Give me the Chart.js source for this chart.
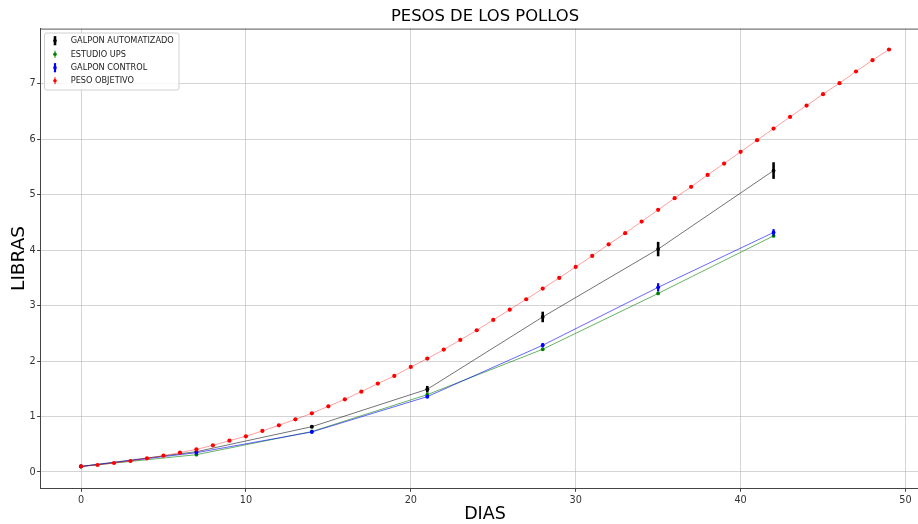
<!DOCTYPE html>
<html>
<head>
<meta charset="utf-8">
<script src="https://cdn.jsdelivr.net/npm/chart.js@4.4.1/dist/chart.umd.min.js"></script>
<style>
  html, body { margin: 0; padding: 0; background: #fff; overflow: hidden; width: 918px; height: 524px; }
  #wrap { position: relative; width: 940px; height: 524px; }
</style>
</head>
<body>
<div id="wrap"><canvas id="c" width="940" height="524"></canvas></div>
<script>
// Días de crianza (curva objetivo diaria)
const dias = [0, 1, 2, 3, 4, 5, 6, 7, 8, 9, 10, 11, 12, 13, 14, 15, 16, 17, 18, 19,
              20, 21, 22, 23, 24, 25, 26, 27, 28, 29, 30, 31, 32, 33, 34, 35, 36, 37, 38, 39,
              40, 41, 42, 43, 44, 45, 46, 47, 48, 49];
// Peso objetivo (libras)
const pesoObjetivo = [0.10, 0.126, 0.162, 0.198, 0.247, 0.295, 0.349, 0.409, 0.481, 0.565,
                      0.644, 0.740, 0.842, 0.950, 1.058, 1.185, 1.311, 1.449, 1.594, 1.732,
                      1.894, 2.045, 2.207, 2.381, 2.556, 2.742, 2.928, 3.115, 3.307, 3.500,
                      3.698, 3.897, 4.105, 4.306, 4.516, 4.727, 4.938, 5.142, 5.358, 5.562,
                      5.773, 5.984, 6.193, 6.404, 6.608, 6.814, 7.012, 7.222, 7.427, 7.619];

// Pesajes semanales
const diasPesaje = [0, 7, 14, 21, 28, 35, 42];
const galponAutomatizado = [0.10, 0.366, 0.817, 1.492, 2.796, 4.02, 5.436];
const errAutomatizado    = [0.01, 0.02, 0.03, 0.06, 0.095, 0.13, 0.15];
const estudioUps         = [0.10, 0.312, 0.73, 1.395, 2.213, 3.22, 4.258];
const errUps             = [0.005, 0.01, 0.01, 0.015, 0.02, 0.02, 0.02];
const galponControl      = [0.10, 0.348, 0.722, 1.359, 2.286, 3.33, 4.32];
const errControl         = [0.005, 0.02, 0.025, 0.03, 0.04, 0.075, 0.06];

// Marcas de los ejes
const ticksX = [0, 10, 20, 30, 40, 50];
const ticksY = [0, 1, 2, 3, 4, 5, 6, 7];

const FONT = '"DejaVu Sans", Verdana, sans-serif';

const pts = (xs, ys) => xs.map((x, i) => ({ x: x, y: ys[i] }));

// Barras de error verticales, dibujadas con cada serie
const errorBars = {
  id: 'errorBars',
  afterDatasetDraw(chart, args) {
    const ds = chart.data.datasets[args.index];
    if (!ds.errors) return;
    const { ctx, scales: { x, y } } = chart;
    ctx.save();
    ctx.strokeStyle = ds.errColor;
    ctx.lineWidth = ds.errWidth;
    ds.data.forEach((p, j) => {
      const e = ds.errors[j];
      if (!e) return;
      const px = x.getPixelForValue(p.x);
      ctx.beginPath();
      ctx.moveTo(px, y.getPixelForValue(p.y - e));
      ctx.lineTo(px, y.getPixelForValue(p.y + e));
      ctx.stroke();
    });
    ctx.restore();
  }
};

// Título, rótulos de ejes, marco superior y leyenda
const decor = {
  id: 'decor',
  afterDraw(chart) {
    const { ctx, chartArea: a } = chart;
    ctx.save();
    // marco superior
    ctx.strokeStyle = '#555';
    ctx.lineWidth = 1;
    ctx.beginPath();
    ctx.moveTo(a.left, a.top + 0.5);
    ctx.lineTo(a.right, a.top + 0.5);
    ctx.stroke();

    const cx = (a.left + a.right) / 2;
    ctx.fillStyle = '#000';
    ctx.textAlign = 'center';
    ctx.textBaseline = 'middle';
    ctx.font = '16.4px ' + FONT;
    ctx.fillText('PESOS DE LOS POLLOS', cx, 17);
    ctx.font = '17.5px ' + FONT;
    ctx.fillText('DIAS', cx, 514);
    ctx.save();
    ctx.font = '18.5px ' + FONT;
    ctx.translate(19, (a.top + a.bottom) / 2);
    ctx.rotate(-Math.PI / 2);
    ctx.fillText('LIBRAS', 0, 0);
    ctx.restore();

    // leyenda
    const bx = 44.5, by = 33, bw = 134.5, bh = 57;
    ctx.fillStyle = 'rgba(255,255,255,0.85)';
    ctx.strokeStyle = '#d0d0d0';
    ctx.lineWidth = 1;
    ctx.beginPath();
    ctx.roundRect(bx, by, bw, bh, 2);
    ctx.fill();
    ctx.stroke();

    const items = [
      { label: 'GALPON AUTOMATIZADO', color: '#000', bar: 2.6, h: 4.6 },
      { label: 'ESTUDIO UPS', color: '#008000', bar: 1, h: 3.5 },
      { label: 'GALPON CONTROL', color: '#0000ff', bar: 2.2, h: 4.6 },
      { label: 'PESO OBJETIVO', color: '#ff0000', bar: 1, h: 3.5 }
    ];
    const rows = [40.7, 54.3, 67.7, 80.7];
    ctx.font = '8.2px ' + FONT;
    ctx.textAlign = 'left';
    items.forEach((it, i) => {
      const yy = rows[i], sx = 55;
      ctx.strokeStyle = it.color;
      ctx.lineWidth = it.bar;
      ctx.beginPath();
      ctx.moveTo(sx, yy - it.h);
      ctx.lineTo(sx, yy + it.h);
      ctx.stroke();
      ctx.fillStyle = it.color;
      ctx.beginPath();
      ctx.arc(sx, yy, 1.8, 0, Math.PI * 2);
      ctx.fill();
      ctx.fillStyle = '#222';
      ctx.fillText(it.label, 70.7, yy + 0.5);
    });
    ctx.restore();
  }
};

new Chart(document.getElementById('c'), {
  type: 'line',
  data: {
    datasets: [
      {
        label: 'PESO OBJETIVO',
        data: pts(dias, pesoObjetivo),
        borderColor: 'rgba(255,0,0,0.38)',
        borderWidth: 1,
        pointBackgroundColor: '#ff0000',
        pointBorderColor: '#ff0000',
        pointRadius: 2.1,
        pointBorderWidth: 0,
        order: 0
      },
      {
        label: 'GALPON CONTROL',
        data: pts(diasPesaje, galponControl),
        errors: errControl, errColor: '#0000ff', errWidth: 2.2,
        borderColor: 'rgba(0,0,255,0.6)',
        borderWidth: 1,
        pointBackgroundColor: '#0000ff',
        pointBorderColor: '#0000ff',
        pointRadius: 1.9,
        pointBorderWidth: 0,
        order: 1
      },
      {
        label: 'ESTUDIO UPS',
        data: pts(diasPesaje, estudioUps),
        errors: errUps, errColor: '#008000', errWidth: 1,
        borderColor: 'rgba(0,128,0,0.6)',
        borderWidth: 1,
        pointBackgroundColor: '#008000',
        pointBorderColor: '#008000',
        pointRadius: 1.9,
        pointBorderWidth: 0,
        order: 2
      },
      {
        label: 'GALPON AUTOMATIZADO',
        data: pts(diasPesaje, galponAutomatizado),
        errors: errAutomatizado, errColor: '#000', errWidth: 2.6,
        borderColor: 'rgba(0,0,0,0.55)',
        borderWidth: 1,
        pointBackgroundColor: '#000',
        pointBorderColor: '#000',
        pointRadius: 1.9,
        pointBorderWidth: 0,
        order: 3
      }
    ]
  },
  options: {
    responsive: false,
    animation: false,
    events: [],
    layout: { padding: { top: 28.6, right: 10.6, left: 0, bottom: 0 } },
    plugins: { legend: { display: false }, title: { display: false }, tooltip: { enabled: false } },
    scales: {
      x: {
        type: 'linear',
        min: -2.45,
        max: 51.45,
        afterBuildTicks: s => { s.ticks = ticksX.map(v => ({ value: v })); },
        afterFit: s => { s.height = 35.7; },
        grid: { color: 'rgba(176,176,176,0.55)', lineWidth: 1, tickLength: 3.5, tickColor: '#444' },
        border: { color: '#444', width: 1 },
        ticks: { font: { family: FONT, size: 9.7 }, color: '#333', padding: 2.5, maxRotation: 0 }
      },
      y: {
        type: 'linear',
        min: -0.294,
        max: 7.996,
        afterBuildTicks: s => { s.ticks = ticksY.map(v => ({ value: v })); },
        afterFit: s => { s.width = 40.6; },
        grid: { color: 'rgba(176,176,176,0.55)', lineWidth: 1, tickLength: 3.5, tickColor: '#444' },
        border: { color: '#444', width: 1 },
        ticks: { font: { family: FONT, size: 9.7 }, color: '#333', padding: 1.5 }
      }
    }
  },
  plugins: [errorBars, decor]
});
</script>
</body>
</html>
